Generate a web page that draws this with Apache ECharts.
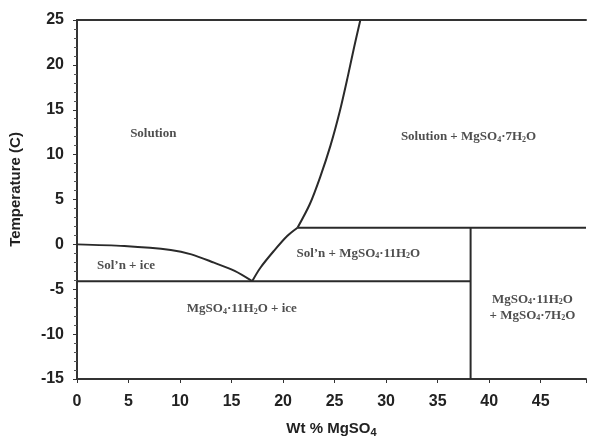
<!DOCTYPE html>
<html>
<head>
<meta charset="utf-8">
<script src="https://cdn.jsdelivr.net/npm/echarts@6/dist/echarts.min.js"></script>
<style>html,body{margin:0;padding:0;background:#fff}#c{width:589px;height:443px}</style>
</head>
<body>
<div id="c"></div>
<script>
// Phase boundaries (x = Wt % MgSO4, y = Temperature C)
const iceLiquidusX = [0, 4.6, 9.1, 11.1, 13.3, 15.3, 17.0];
const iceLiquidusY = [0, -0.19, -0.63, -1.11, -2.04, -2.96, -4.1];
const mg11LiquidusX = [17.0, 17.8, 19.1, 20.4, 21.4];
const mg11LiquidusY = [-4.1, -2.6, -0.74, 0.93, 1.85];
const mg7LiquidusX = [21.4, 22.6, 23.6, 24.6, 25.5, 26.3, 26.9, 27.5];
const mg7LiquidusY = [1.85, 4.5, 7.5, 11.0, 14.8, 18.8, 22.0, 25.0];
const peritecticLineX = [21.4, 49.4];
const peritecticLineY = [1.85, 1.85];
const eutecticLineX = [0, 38.2];
const eutecticLineY = [-4.1, -4.1];
const hydrateBoundaryX = [38.2, 38.2];
const hydrateBoundaryY = [1.85, -15];

const xTicks = [0, 5, 10, 15, 20, 25, 30, 35, 40, 45];
const yTicks = [-15, -10, -5, 0, 5, 10, 15, 20, 25];

const regionNames = [
  'Solution',
  'Solution + MgSO{s|4}·7H{s|2}O',
  'Sol’n + ice',
  'Sol’n + MgSO{s|4}·11H{s|2}O',
  'MgSO{s|4}·11H{s|2}O + ice',
  'MgSO{s|4}·11H{s|2}O\n+ MgSO{s|4}·7H{s|2}O'
];
const regionX = [7.4, 38.0, 4.75, 27.3, 16.0, 44.2];
const regionY = [12.3, 12.0, -2.33, -1.0, -7.2, -7.0];

const zip = (xs, ys) => xs.map((x, i) => [x, ys[i]]);
const lineColor = '#2a2a2a';
const lineSeries = (xs, ys, smooth) => ({
  type: 'line', data: zip(xs, ys), showSymbol: false, symbol: 'none',
  smooth: smooth ? 0.3 : false,
  lineStyle: { color: lineColor, width: 2 }, silent: true, z: 3
});

const chart = echarts.init(document.getElementById('c'), null, { renderer: 'canvas' });
chart.setOption({
  animation: false,
  grid: { left: 77, top: 20, right: 0, bottom: 63, containLabel: false },
  xAxis: [{
    type: 'value', min: 0, max: 49.4, interval: 5,
    name: 'Wt % MgSO{s|4}', nameLocation: 'middle', nameGap: 40,
    nameTextStyle: { fontFamily: 'Liberation Sans', fontWeight: 'bold', fontSize: 15, color: '#222',
      rich: { s: { fontFamily: 'Liberation Sans', fontWeight: 'bold', fontSize: 11, color: '#222', padding: [8, 0, 0, 0] } } },
    axisLine: { show: true, onZero: false, lineStyle: { color: '#333', width: 2 } },
    axisTick: { show: true, inside: false, length: 4, lineStyle: { color: '#333', width: 1 } },
    axisLabel: { fontFamily: 'Liberation Sans', fontWeight: 'bold', fontSize: 16, color: '#222', margin: 15,
      formatter: v => xTicks.indexOf(v) >= 0 ? String(v) : '' },
    splitLine: { show: false }
  }, {
    type: 'value', min: 0, max: 49.4, position: 'top',
    axisLine: { show: true, onZero: false, lineStyle: { color: '#333', width: 2 } },
    axisTick: { show: false }, axisLabel: { show: false }, splitLine: { show: false }
  }],
  yAxis: {
    type: 'value', min: -15, max: 25, interval: 5,
    name: 'Temperature (C)', nameLocation: 'middle', nameGap: 54,
    nameTextStyle: { fontFamily: 'Liberation Sans', fontWeight: 'bold', fontSize: 15, color: '#222', padding: [0, 0, 0, 20] },
    axisLine: { show: true, onZero: false, lineStyle: { color: '#333', width: 2 } },
    axisTick: { show: true, inside: false, length: 4, lineStyle: { color: '#333', width: 1 } },
    minorTick: { show: true, splitNumber: 5, length: 3, lineStyle: { color: '#555', width: 1 } },
    axisLabel: { fontFamily: 'Liberation Sans', fontWeight: 'bold', fontSize: 16, color: '#222', margin: 13,
      formatter: v => yTicks.indexOf(v) >= 0 ? String(v) : '' },
    splitLine: { show: false }
  },
  series: [
    lineSeries(iceLiquidusX, iceLiquidusY, true),
    lineSeries(mg11LiquidusX, mg11LiquidusY, true),
    lineSeries(mg7LiquidusX, mg7LiquidusY, true),
    lineSeries(peritecticLineX, peritecticLineY, false),
    lineSeries(eutecticLineX, eutecticLineY, false),
    lineSeries(hydrateBoundaryX, hydrateBoundaryY, false),
    {
      type: 'scatter', symbolSize: 0, silent: true, z: 4,
      data: regionNames.map((n, i) => ({ value: [regionX[i], regionY[i]], name: n })),
      label: {
        show: true, position: 'inside', formatter: p => p.name, align: 'center',
        fontFamily: 'Liberation Serif', fontWeight: 'bold', fontSize: 13, color: '#222', lineHeight: 16,
        rich: { s: { fontFamily: 'Liberation Serif', fontWeight: 'bold', fontSize: 8, color: '#222', padding: [6, 0, 0, 0] } }
      }
    }
  ]
});
</script>
</body>
</html>
